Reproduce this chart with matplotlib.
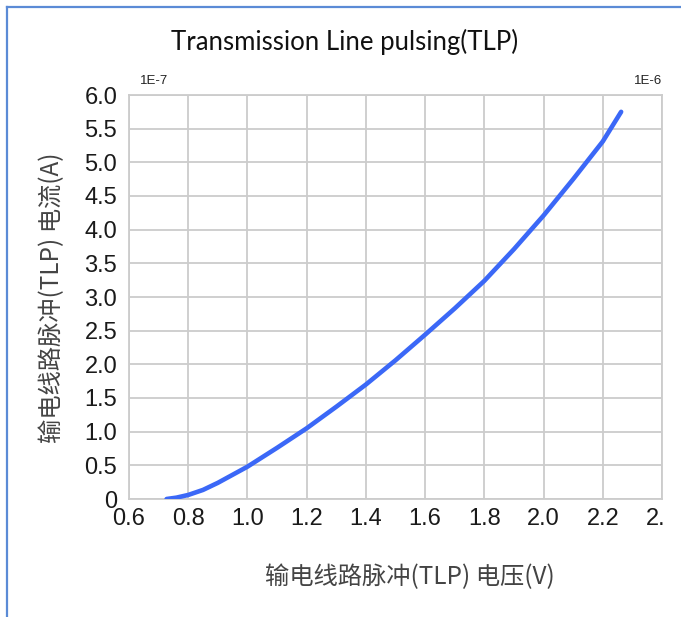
import numpy as np
import matplotlib
matplotlib.use('Agg')
import matplotlib.pyplot as plt
from matplotlib.patches import Rectangle
from matplotlib.lines import Line2D

# TLP curve (y in units of the 1E-7 marker)
voltage = [0.727, 0.76, 0.8, 0.85, 0.9, 0.95, 1.0, 1.1, 1.2, 1.3, 1.4, 1.5, 1.6,
           1.7, 1.8, 1.9, 2.0, 2.1, 2.2, 2.262]
current = [0.0, 0.02, 0.06, 0.135, 0.24, 0.36, 0.48, 0.76, 1.05, 1.37, 1.70, 2.06, 2.44,
           2.83, 3.24, 3.71, 4.21, 4.75, 5.31, 5.75]

x_ticks = [0.6, 0.8, 1.0, 1.2, 1.4, 1.6, 1.8, 2.0, 2.2, 2.4]
y_ticks = [0, 0.5, 1.0, 1.5, 2.0, 2.5, 3.0, 3.5, 4.0, 4.5, 5.0, 5.5, 6.0]
y_labels = ['0'] + ['%.1f' % v for v in y_ticks[1:]]

title = 'Transmission Line pulsing(TLP)'
xlabel = '输电线路脉冲(TLP) 电压(V)'
ylabel = '输电线路脉冲(TLP) 电流(A)'

W, H = 681, 617
fig = plt.figure(figsize=(W / 100, H / 100), dpi=100)
fig.patch.set_facecolor('white')

ax = fig.add_axes([129 / W, 1 - 499 / H, (662 - 129) / W, (499 - 95) / H])
ax.plot(voltage, current, color='#3b68f7', lw=3.3, solid_capstyle='round',
        solid_joinstyle='round', zorder=3)

ax.set_xlim(0.6, 2.4)
ax.set_ylim(0, 6.0)
ax.set_xticks(x_ticks)
ax.set_xticklabels(['%.1f' % v for v in x_ticks])
ax.set_yticks(y_ticks)
ax.set_yticklabels(y_labels)
ax.grid(True, color='#cccccc', lw=1.3)
ax.set_axisbelow(True)
for s in ax.spines.values():
    s.set_color('#cccccc')
    s.set_linewidth(1.3)
ax.tick_params(length=0, labelsize=17, labelcolor='#1a1a1a')
ax.tick_params(axis='x', pad=6.5)
ax.tick_params(axis='y', pad=8.5)
for lbl in ax.get_xticklabels() + ax.get_yticklabels():
    lbl.set_family('Liberation Sans')

ax.annotate('1E-7', xy=(0, 1), xycoords='axes fraction', xytext=(8, 6),
            textcoords='offset points', fontsize=9.5, family='Liberation Sans',
            color='#222222', ha='left', va='bottom')
ax.annotate('1E-6', xy=(1, 1), xycoords='axes fraction', xytext=(0, 6),
            textcoords='offset points', fontsize=9.5, family='Liberation Sans',
            color='#222222', ha='right', va='bottom')

fig.text(345 / W, 1 - 42 / H, title, fontsize=18.5, family='Lato',
         ha='center', va='center', color='#111111')
fig.text(410 / W, 1 - 577 / H, xlabel, fontsize=17.5,
         family=['Noto Sans CJK SC', 'DejaVu Sans'], ha='center', va='center', color='#444444')
fig.text(52 / W, 1 - 298 / H, ylabel, fontsize=17.5, rotation=90,
         family=['Noto Sans CJK SC', 'DejaVu Sans'], ha='center', va='center', color='#444444')

# last tick label is cut off at the right edge in the original
fig.patches.append(Rectangle((664 / W, 1 - 540 / H), (W - 664) / W, 40 / H,
                             transform=fig.transFigure, facecolor='white',
                             edgecolor='none', zorder=10))

# blue frame along the top and left
fig.lines.append(Line2D([7 / W, 1], [1 - 7 / H, 1 - 7 / H], transform=fig.transFigure,
                        color='#5b8bd6', lw=1.6))
fig.lines.append(Line2D([7 / W, 7 / W], [0, 1 - 7 / H], transform=fig.transFigure,
                        color='#5b8bd6', lw=1.6))

fig.savefig('out.png', dpi=100)
